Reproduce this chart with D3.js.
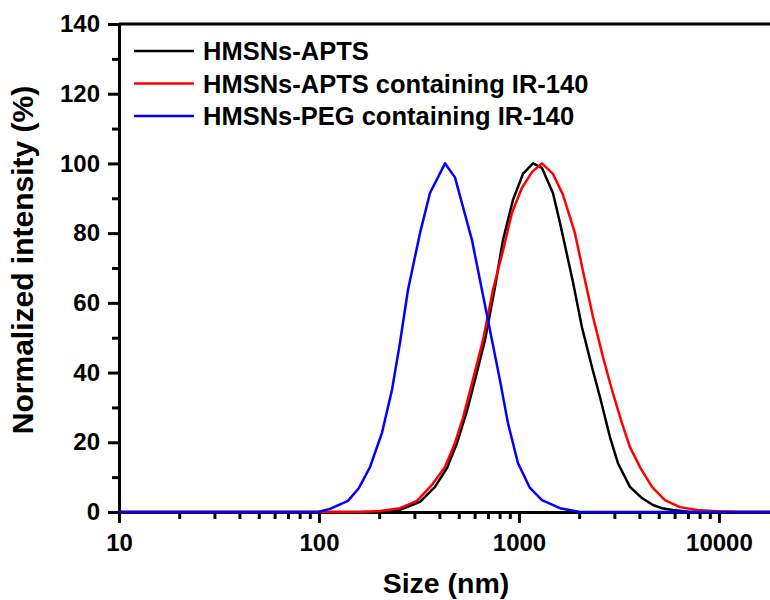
<!DOCTYPE html>
<html>
<head>
<meta charset="utf-8">
<script src="https://cdn.jsdelivr.net/npm/d3@7"></script>
<style>
  body { margin: 0; background: #fff; }
  svg text { font-family: "Liberation Sans", Arial, sans-serif; font-weight: bold; fill: #000; }
</style>
</head>
<body>
<script>
// size (nm) / normalized intensity (%)
const aptsSize = [10, 160, 202, 254, 320, 380, 436.5, 490, 549.5, 602.6, 676, 758.6, 831.8, 933, 1047, 1175, 1303, 1479, 1603, 1862, 2065, 2317, 2541, 2851, 3126, 3589, 4121, 4677, 5188, 5888, 7161, 18000];
const aptsVal = [0, 0, 0.1, 0.6, 2.9, 7.2, 12.6, 19.8, 29, 37.9, 49.3, 64.5, 78, 89.5, 97, 100, 98.7, 91.5, 83, 66, 53, 41.6, 33, 21.5, 14, 7.2, 4, 2, 1.1, 0.6, 0, 0];

const aptsIrSize = [10, 160, 202, 254, 309, 366, 426.6, 478.6, 525, 588, 660.7, 741, 831.8, 922, 1035, 1161, 1303, 1479, 1660, 1905, 2138, 2344, 2630, 2917, 3273, 3589, 4027, 4624, 5370, 6383, 7762, 9772, 12706, 18000];
const aptsIrVal = [0, 0, 0.3, 1.1, 3.2, 7.7, 12.9, 19.8, 27, 37.9, 49.3, 63.7, 75, 85.8, 93, 97.5, 100, 97, 91, 80, 66.5, 56, 44.5, 35, 25.5, 18.6, 12.9, 7.2, 3.4, 1.4, 0.6, 0.2, 0, 0];

const pegIrSize = [10, 99, 113.5, 139.6, 158.5, 180, 206.5, 231.7, 254, 278.6, 320, 359, 427, 478.6, 525, 582, 653, 733, 803, 881, 989, 1135, 1303, 1603, 2018, 18000];
const pegIrVal = [0, 0, 0.9, 3.2, 6.9, 12.9, 22.7, 35, 48.5, 63.7, 80, 91.5, 100, 96, 87.5, 78, 63.7, 49.3, 37.9, 25.5, 14, 6.9, 3.4, 1.1, 0, 0];

const seriesNames = ["HMSNs-APTS", "HMSNs-APTS containing IR-140", "HMSNs-PEG containing IR-140"];
const seriesColors = ["#000000", "#ff0000", "#0000ff"];

const xMajor = [10, 100, 1000, 10000];
const xMinor = [20, 30, 40, 50, 60, 70, 80, 90, 200, 300, 400, 500, 600, 700, 800, 900,
  2000, 3000, 4000, 5000, 6000, 7000, 8000, 9000];
const yMajor = [0, 20, 40, 60, 80, 100, 120, 140];
const yMinor = [10, 30, 50, 70, 90, 110, 130];

const width = 770, height = 600;
const plotLeft = 119, plotRight = 770, plotTop = 24, plotBottom = 512;

const svg = d3.select('body')
  .append('svg')
  .attr('width', width)
  .attr('height', height);

const x = d3.scaleLog().domain([10, 18000]).range([plotLeft, plotRight]);
const y = d3.scaleLinear().domain([0, 140]).range([plotBottom, plotTop]);

// minor ticks first, then the main axes over them
svg.append('g')
  .attr('transform', `translate(0,${plotBottom})`)
  .call(d3.axisBottom(x).tickValues(xMinor).tickSize(7).tickFormat(''))
  .call(g => g.select('.domain').remove())
  .selectAll('line').attr('stroke', '#000').attr('stroke-width', 3);

svg.append('g')
  .attr('transform', `translate(${plotLeft},0)`)
  .call(d3.axisLeft(y).tickValues(yMinor).tickSize(7).tickFormat(''))
  .call(g => g.select('.domain').remove())
  .selectAll('line').attr('stroke', '#000').attr('stroke-width', 3);

const xAxis = svg.append('g')
  .attr('transform', `translate(0,${plotBottom})`)
  .call(d3.axisBottom(x).tickValues(xMajor).tickSize(11).tickSizeOuter(0).tickPadding(11).tickFormat(d3.format('d')));
xAxis.select('.domain').attr('stroke-width', 3);
xAxis.selectAll('line').attr('stroke-width', 3);
xAxis.selectAll('text').attr('font-size', 24);

const yAxis = svg.append('g')
  .attr('transform', `translate(${plotLeft},0)`)
  .call(d3.axisLeft(y).tickValues(yMajor).tickSize(11).tickSizeOuter(0).tickPadding(8));
yAxis.select('.domain').attr('stroke-width', 3);
yAxis.selectAll('line').attr('stroke-width', 3);
yAxis.selectAll('text').attr('font-size', 24);

// top frame line
svg.append('line')
  .attr('x1', plotLeft).attr('x2', plotRight + 2)
  .attr('y1', plotTop).attr('y2', plotTop)
  .attr('stroke', '#000').attr('stroke-width', 3);

const plot = svg.append('g');
const line = d3.line().x(d => x(d[0])).y(d => y(d[1]));
const series = [
  d3.zip(aptsSize, aptsVal),
  d3.zip(aptsIrSize, aptsIrVal),
  d3.zip(pegIrSize, pegIrVal)
];
series.forEach((pts, i) => {
  plot.append('path')
    .datum(pts)
    .attr('d', line)
    .attr('fill', 'none')
    .attr('stroke', seriesColors[i])
    .attr('stroke-width', 2.5)
    .attr('stroke-linejoin', 'round');
});

// legend
const legend = svg.append('g');
seriesNames.forEach((name, i) => {
  const ly = 51 + i * 32.5;
  legend.append('line')
    .attr('x1', 134).attr('x2', 194)
    .attr('y1', ly).attr('y2', ly)
    .attr('stroke', seriesColors[i]).attr('stroke-width', 2.5);
  legend.append('text')
    .attr('x', 203).attr('y', ly)
    .attr('dy', '0.36em')
    .attr('font-size', 25.5)
    .text(name);
});

// axis titles
svg.append('text')
  .attr('x', 446).attr('y', 593)
  .attr('text-anchor', 'middle')
  .attr('font-size', 28.5)
  .text('Size (nm)');

svg.append('text')
  .attr('transform', `translate(33,260) rotate(-90)`)
  .attr('text-anchor', 'middle')
  .attr('font-size', 30)
  .text('Normalized intensity (%)');
</script>
</body>
</html>
